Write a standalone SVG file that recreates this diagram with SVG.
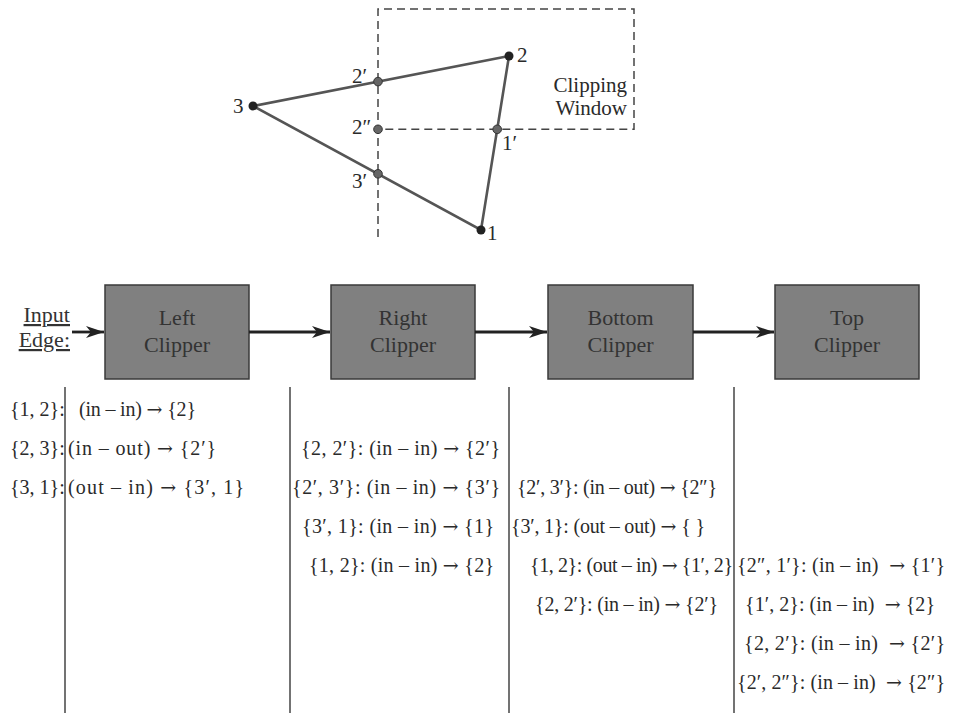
<svg xmlns="http://www.w3.org/2000/svg" width="953" height="713" viewBox="0 0 953 713">
<style>
text{font-family:"Liberation Serif","Times New Roman",serif;fill:#2a2a2a}
.t{font-size:20px}
.a{font-family:"DejaVu Serif",serif;font-size:19px}
.lbl{font-size:21px}
.box{fill:#808080;stroke:#3a3a3a;stroke-width:1.5}
.bt{font-size:22px;text-anchor:middle;fill:#333}
.arr{stroke:#222;stroke-width:2.8;fill:none;marker-end:url(#ah)}
.sep{stroke:#444;stroke-width:1.5}
.tri{stroke:#555;stroke-width:2.6;fill:none}
.win{stroke:#444;stroke-width:1.5;fill:none;stroke-dasharray:8 5}
.vx{fill:#222}
.ix{fill:#666;stroke:#333;stroke-width:1}
</style>
<defs>
<marker id="ah" markerUnits="userSpaceOnUse" markerWidth="20" markerHeight="14" refX="18" refY="6" orient="auto">
<path d="M0,0 L18,6 L0,12 L5,6 z" fill="#222"/>
</marker>
</defs>

<g id="clipping-figure">
<path class="win" d="M378,237 L378,9 L634,9 L634,129.3 L378,129.3"/>
<polygon class="tri" points="253,106 509,56 481,230"/>
<circle class="vx" cx="509" cy="56" r="4.5"/>
<circle class="vx" cx="253" cy="106" r="4.5"/>
<circle class="vx" cx="481" cy="230" r="4.5"/>
<circle class="ix" cx="378" cy="81.6" r="4.3"/>
<circle class="ix" cx="378" cy="129.3" r="4.3"/>
<circle class="ix" cx="378" cy="173.8" r="4.3"/>
<circle class="ix" cx="497.2" cy="129.3" r="4.3"/>
<text class="lbl" x="517" y="62">2</text>
<text class="lbl" x="233" y="113">3</text>
<text class="lbl" x="352" y="83">2′</text>
<text class="lbl" x="352" y="134">2″</text>
<text class="lbl" x="352" y="188">3′</text>
<text class="lbl" x="502" y="150">1′</text>
<text class="lbl" x="487" y="240">1</text>
<text class="lbl" x="627" y="92" text-anchor="end">Clipping</text>
<text class="lbl" x="627" y="115" text-anchor="end">Window</text>
</g>

<g id="input-edge">
<text class="bt" x="70" y="322" style="text-anchor:end" text-decoration="underline">Input</text>
<text class="bt" x="70" y="347" style="text-anchor:end" text-decoration="underline">Edge:</text>
</g>

<g id="left-clipper">
<rect class="box" x="105" y="285" width="144" height="94"/>
<text class="bt" x="177" y="325">Left</text>
<text class="bt" x="177" y="352">Clipper</text>
</g>
<g id="right-clipper">
<rect class="box" x="331" y="285" width="144" height="94"/>
<text class="bt" x="403" y="325">Right</text>
<text class="bt" x="403" y="352">Clipper</text>
</g>
<g id="bottom-clipper">
<rect class="box" x="548" y="285" width="145" height="94"/>
<text class="bt" x="620.5" y="325">Bottom</text>
<text class="bt" x="620.5" y="352">Clipper</text>
</g>
<g id="top-clipper">
<rect class="box" x="775" y="285" width="144" height="94"/>
<text class="bt" x="847" y="325">Top</text>
<text class="bt" x="847" y="352">Clipper</text>
</g>

<g id="connectors">
<line class="arr" x1="72" y1="332" x2="104" y2="332"/>
<line class="arr" x1="249" y1="332" x2="330" y2="332"/>
<line class="arr" x1="475" y1="332" x2="547" y2="332"/>
<line class="arr" x1="693" y1="332" x2="774" y2="332"/>
</g>

<g id="separators">
<line class="sep" x1="65" y1="387" x2="65" y2="713"/>
<line class="sep" x1="290" y1="387" x2="290" y2="713"/>
<line class="sep" x1="509" y1="387" x2="509" y2="713"/>
<line class="sep" x1="734" y1="387" x2="734" y2="713"/>
</g>

<g id="table-text">
<text class="t" x="10" y="416">{1, 2}:</text>
<text class="t" x="79" y="416" textLength="117" lengthAdjust="spacing">(in – in) <tspan class="a">→</tspan> {2}</text>
<text class="t" x="10" y="455">{2, 3}:</text>
<text class="t" x="68" y="455" textLength="148" lengthAdjust="spacing">(in – out) <tspan class="a">→</tspan> {2′}</text>
<text class="t" x="10" y="494">{3, 1}:</text>
<text class="t" x="68" y="494" textLength="176" lengthAdjust="spacing">(out – in) <tspan class="a">→</tspan> {3′, 1}</text>

<text class="t" x="301" y="455" textLength="199" lengthAdjust="spacing">{2, 2′}: (in – in) <tspan class="a">→</tspan> {2′}</text>
<text class="t" x="292" y="494" textLength="208" lengthAdjust="spacing">{2′, 3′}: (in – in) <tspan class="a">→</tspan> {3′}</text>
<text class="t" x="302" y="533" textLength="192" lengthAdjust="spacing">{3′, 1}: (in – in) <tspan class="a">→</tspan> {1}</text>
<text class="t" x="309" y="572" textLength="185" lengthAdjust="spacing">{1, 2}: (in – in) <tspan class="a">→</tspan> {2}</text>

<text class="t" x="517" y="494" textLength="200" lengthAdjust="spacing">{2′, 3′}: (in – out) <tspan class="a">→</tspan> {2″}</text>
<text class="t" x="511" y="533" textLength="194" lengthAdjust="spacing">{3′, 1}: (out – out) <tspan class="a">→</tspan> { }</text>
<text class="t" x="530" y="572" textLength="203" lengthAdjust="spacing">{1, 2}: (out – in) <tspan class="a">→</tspan> {1′, 2}</text>
<text class="t" x="535" y="611" textLength="183" lengthAdjust="spacing">{2, 2′}: (in – in) <tspan class="a">→</tspan> {2′}</text>

<text class="t" x="737" y="572" textLength="208" lengthAdjust="spacing">{2″, 1′}: (in – in) &#160;<tspan class="a">→</tspan> {1′}</text>
<text class="t" x="745" y="611" textLength="190" lengthAdjust="spacing">{1′, 2}: (in – in) &#160;<tspan class="a">→</tspan> {2}</text>
<text class="t" x="744" y="650" textLength="201" lengthAdjust="spacing">{2, 2′}: (in – in) &#160;<tspan class="a">→</tspan> {2′}</text>
<text class="t" x="737" y="689" textLength="208" lengthAdjust="spacing">{2′, 2″}: (in – in) &#160;<tspan class="a">→</tspan> {2″}</text>
</g>
</svg>
